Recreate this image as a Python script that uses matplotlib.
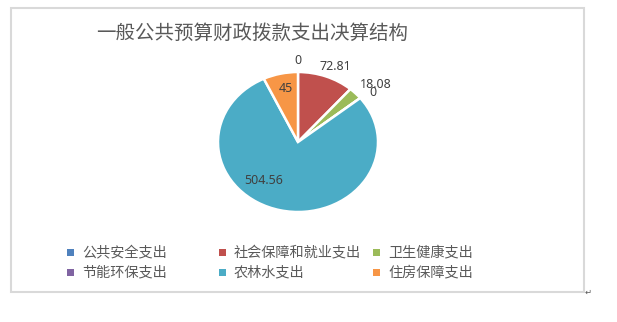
import matplotlib
matplotlib.use("Agg")
import matplotlib.pyplot as plt
import numpy as np
from matplotlib.patches import Rectangle

plt.rcParams['font.family'] = ['Noto Sans CJK SC', 'DejaVu Sans']

title = "一般公共预算财政拨款支出决算结构"
categories = ["公共安全支出", "社会保障和就业支出", "卫生健康支出",
              "节能环保支出", "农林水支出", "住房保障支出"]
values = [0, 72.81, 18.08, 0, 504.56, 45]
value_labels = ["0", "72.81", "18.08", "0", "504.56", "45"]
colors = ["#4F81BD", "#C0504D", "#9BBB59", "#8064A2", "#4BACC6", "#F79646"]

# label placement style: (radial distance, angle shift in degrees)
label_style = [(1.17, 0), (1.18, -2.6), (1.27, -4), (1.17, -2), (0.69, -25), (0.78, -1.5)]

W, H = 617, 322
fig = plt.figure(figsize=(W / 100, H / 100), dpi=100)

# outer chart border
fig.patches.append(Rectangle((11 / W, 1 - 292 / H), (584 - 11) / W, (292 - 8) / H,
                             transform=fig.transFigure, fill=False,
                             edgecolor="#D9D9D9", linewidth=1.5))
fig.text(588 / W, 1 - 292 / H, "↵", family="DejaVu Sans", fontsize=6,
         color="#555555", ha="center", va="center")

fig.text(252 / W, 1 - 33 / H, title, fontsize=14, color="#595959",
         ha="center", va="center")

ax = fig.add_axes([218 / W, 1 - 212 / H, 160 / W, 140 / H])
wedges, _ = ax.pie(values, colors=colors, startangle=90, counterclock=False,
                   radius=1.0,
                   wedgeprops=dict(edgecolor="white", linewidth=1.8))
ax.set_aspect("auto")
ax.set_xlim(-1, 1)
ax.set_ylim(-1, 1)
ax.axis("off")

for w, lab, (dist, shift) in zip(wedges, value_labels, label_style):
    mid = np.deg2rad((w.theta1 + w.theta2) / 2 + shift)
    ax.text(dist * np.cos(mid), dist * np.sin(mid), lab, family="Noto Sans",
            fontsize=9, color="#404040", ha="center", va="center", clip_on=False)

# legend (Excel-style fixed columns)
col_x = [67, 219, 373]
row_y = [252, 272]
for i, (cat, col) in enumerate(zip(categories, colors)):
    r, c = divmod(i, 3)
    x0, y0 = col_x[c], row_y[r]
    fig.patches.append(Rectangle((x0 / W, 1 - (y0 + 3.5) / H), 7 / W, 7 / H,
                                 transform=fig.transFigure, facecolor=col,
                                 edgecolor="none"))
    fig.text((x0 + 15) / W, 1 - y0 / H, cat, fontsize=10.2, color="#595959",
             ha="left", va="center")

fig.savefig("out.png", dpi=100, facecolor="white")
